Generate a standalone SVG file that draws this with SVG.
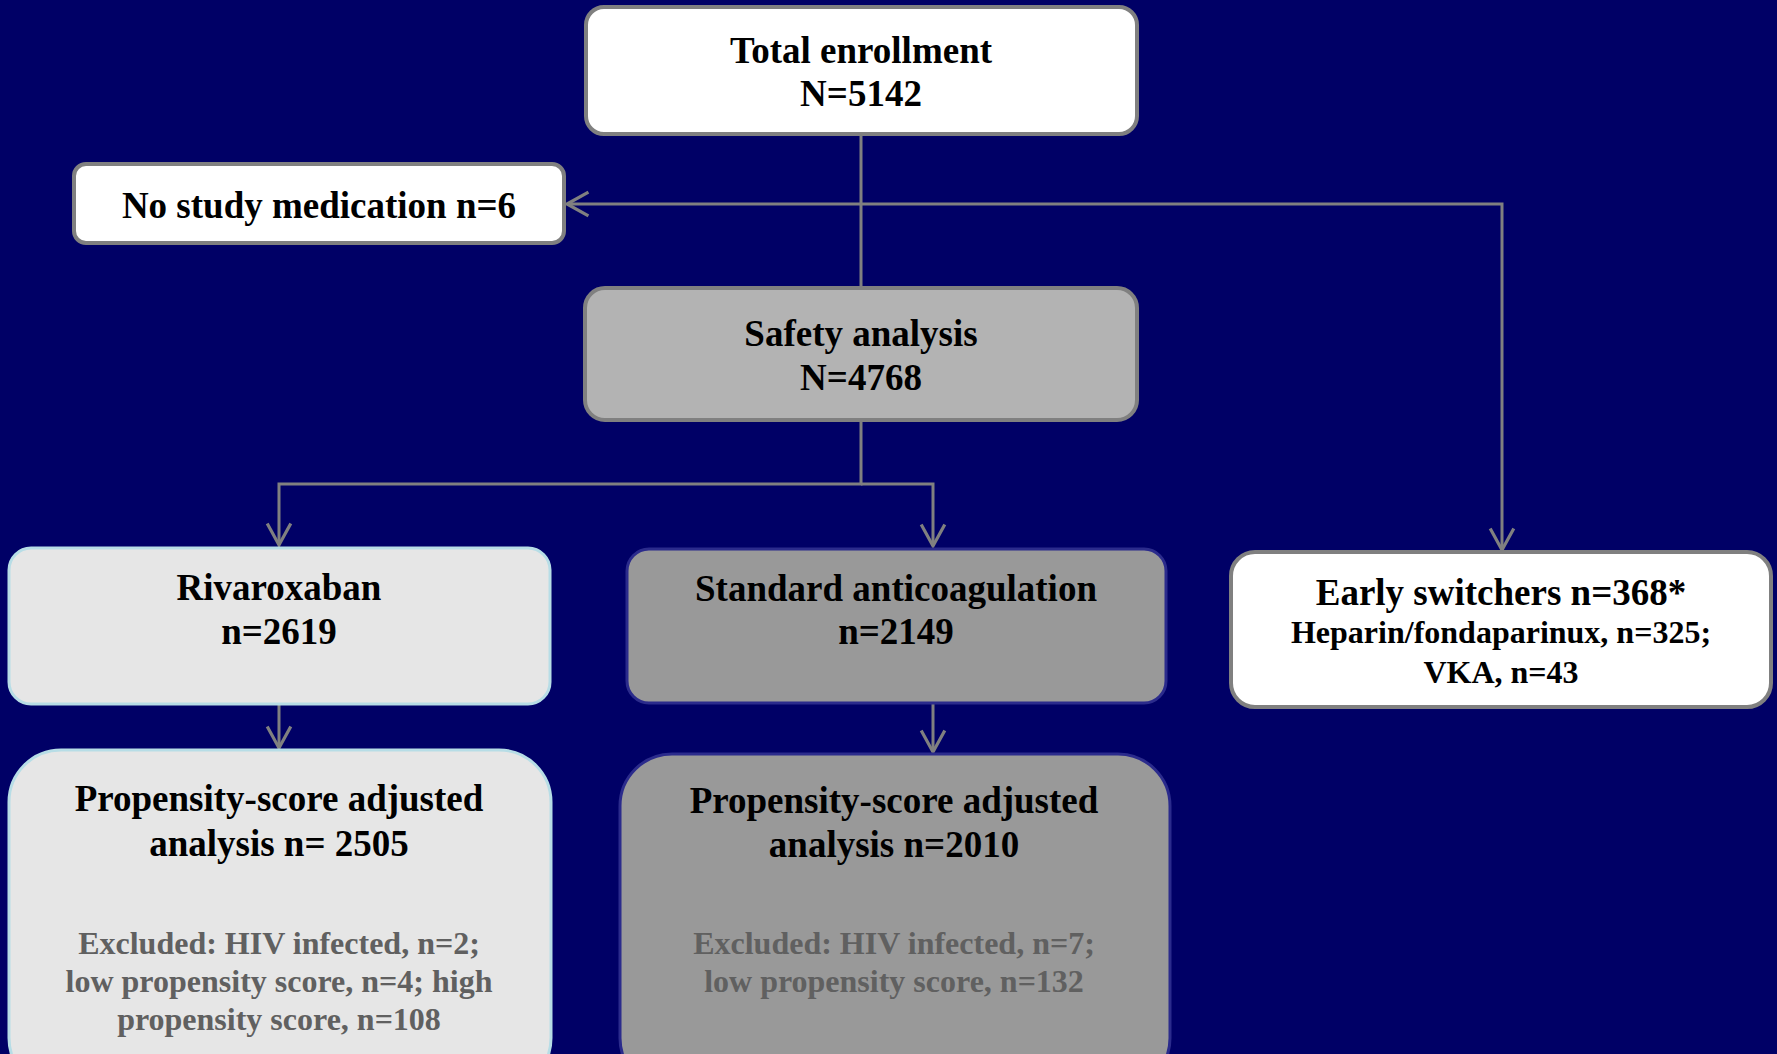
<svg xmlns="http://www.w3.org/2000/svg" width="1777" height="1054" viewBox="0 0 1777 1054">
<style>
text{font-family:"Liberation Serif","Times New Roman",serif;font-weight:bold;text-anchor:middle;fill:#000}
.big{font-size:37px}
.mid{font-size:32px}
.exc{font-size:32px;fill:#606060}
.conn{fill:none;stroke:#808080;stroke-width:3}
.gray{stroke:#808080;stroke-width:4}
</style>
<defs>
<marker id="arr" markerUnits="userSpaceOnUse" markerWidth="30" markerHeight="30" viewBox="-24 -14 28 28" refX="0" refY="0" orient="auto">
<path d="M-20,-11 L0,0 L-20,11" fill="none" stroke="#808080" stroke-width="3"/>
</marker>
</defs>
<rect x="0" y="0" width="1777" height="1054" fill="#000066"/>
<g id="connectors">
<path class="conn" d="M861,134 V288"/>
<path class="conn" d="M861,204 H567" marker-end="url(#arr)"/>
<path class="conn" d="M861,204 H1502 V550" marker-end="url(#arr)"/>
<path class="conn" d="M861,420 V484 H279 V545" marker-end="url(#arr)"/>
<path class="conn" d="M861,484 H933 V546" marker-end="url(#arr)"/>
<path class="conn" d="M279,704 V748" marker-end="url(#arr)"/>
<path class="conn" d="M933,703 V752" marker-end="url(#arr)"/>
</g>
<g id="total">
<rect x="586" y="7" width="551" height="127" rx="18" fill="#ffffff" class="gray"/>
<text class="big" x="861" y="63">Total enrollment</text>
<text class="big" x="861" y="106">N=5142</text>
</g>
<g id="nostudy">
<rect x="74" y="164" width="490" height="79" rx="12" fill="#ffffff" class="gray"/>
<text class="big" x="319" y="218">No study medication n=6</text>
</g>
<g id="safety">
<rect x="585" y="288" width="552" height="132" rx="20" fill="#b3b3b3" class="gray"/>
<text class="big" x="861" y="346">Safety analysis</text>
<text class="big" x="861" y="390">N=4768</text>
</g>
<g id="rivaroxaban">
<rect x="9" y="548" width="541" height="156" rx="22" fill="#e6e6e6" stroke="#b7dde6" stroke-width="3"/>
<text class="big" x="279" y="600">Rivaroxaban</text>
<text class="big" x="279" y="644">n=2619</text>
</g>
<g id="standard">
<rect x="627" y="549" width="539" height="154" rx="22" fill="#999999" stroke="#2b2b8c" stroke-width="3"/>
<text class="big" x="896" y="601">Standard anticoagulation</text>
<text class="big" x="896" y="644">n=2149</text>
</g>
<g id="early">
<rect x="1231" y="552" width="540" height="155" rx="24" fill="#ffffff" class="gray"/>
<text class="big" x="1501" y="605">Early switchers n=368*</text>
<text class="mid" x="1501" y="643">Heparin/fondaparinux, n=325;</text>
<text class="mid" x="1501" y="683">VKA, n=43</text>
</g>
<g id="propleft">
<rect x="9" y="750" width="542" height="340" rx="52" fill="#e6e6e6" stroke="#b7dde6" stroke-width="3"/>
<text class="big" x="279" y="811">Propensity-score adjusted</text>
<text class="big" x="279" y="856">analysis n= 2505</text>
<text class="exc" x="279" y="954">Excluded: HIV infected, n=2;</text>
<text class="exc" x="279" y="992">low propensity score, n=4; high</text>
<text class="exc" x="279" y="1030">propensity score, n=108</text>
</g>
<g id="propright">
<rect x="620" y="754" width="550" height="336" rx="52" fill="#999999" stroke="#2b2b8c" stroke-width="3"/>
<text class="big" x="894" y="813">Propensity-score adjusted</text>
<text class="big" x="894" y="857">analysis n=2010</text>
<text class="exc" x="894" y="954">Excluded: HIV infected, n=7;</text>
<text class="exc" x="894" y="992">low propensity score, n=132</text>
</g>
</svg>
